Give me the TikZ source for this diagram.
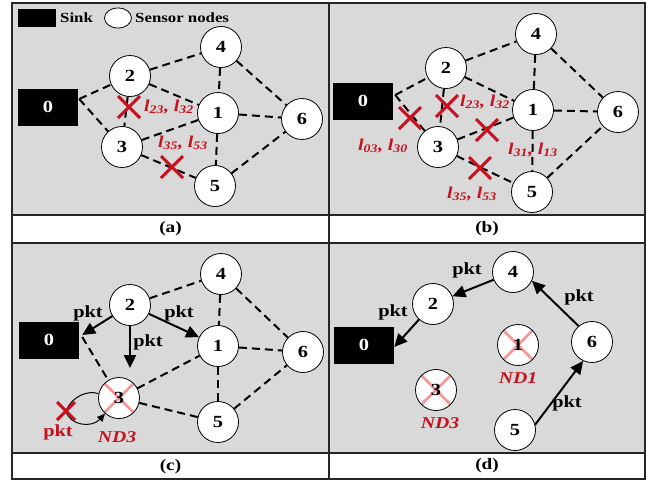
\documentclass[tikz,border=0pt]{standalone}
\usepackage{fontspec}
\setmainfont{Liberation Serif}[FakeStretch=1.2]
\usetikzlibrary{shapes.misc,shapes.geometric,arrows.meta,calc}
\definecolor{panelgray}{RGB}{217,217,217}
\definecolor{xred}{RGB}{200,16,30}
\definecolor{xpink}{RGB}{245,150,150}
\tikzset{
  snode/.style={circle,draw=black,line width=0.8pt,fill=white,minimum size=41pt,inner sep=0pt,font=\fontsize{17}{17}\selectfont\bfseries},
  sinknode/.style={rectangle,fill=black,minimum width=60pt,minimum height=37pt,inner sep=0pt,text=white,font=\fontsize{17}{17}\selectfont\bfseries},
  deadnode/.style={snode,path picture={\draw[xpink,line width=2.6pt]
     (path picture bounding box.north west) -- (path picture bounding box.south east)
     (path picture bounding box.north east) -- (path picture bounding box.south west);}},
  dedge/.style={line width=2pt,dash pattern=on 8pt off 5pt},
  arr/.style={line width=2pt,-{Triangle[length=13pt,width=12pt]}},
  redx/.style={cross out,draw=xred,line width=3pt,minimum size=19pt,inner sep=0pt},
  lbl/.style={text=xred,font=\fontsize{16.5}{16.5}\selectfont\bfseries\itshape,inner sep=0pt},
  pkttxt/.style={font=\fontsize{17}{17}\selectfont\bfseries,inner sep=0pt},
  captxt/.style={font=\fontsize{16}{16}\selectfont\bfseries,inner sep=0pt},
  frameline/.style={line width=1.5pt,draw=black!85}
}
\begin{document}
\begin{tikzpicture}[x=1pt,y=-1pt]
\fill[white] (0,0) rectangle (649,480);
\useasboundingbox (0,0) rectangle (649,480);
% panels
\fill[panelgray] (12,3) rectangle (645,215);
\fill[panelgray] (12,243) rectangle (645,453);
\draw[frameline] (12,3) rectangle (645,479);
\draw[frameline] (12,215) -- (645,215);
\draw[frameline] (12,243) -- (645,243);
\draw[frameline] (12,453) -- (645,453);
\draw[frameline] (329,3) -- (329,479);
\node[captxt] (capa) at (170.5,229) {(a)};
\node[captxt] (capb) at (487,229) {(b)};
\node[captxt] (capc) at (170.5,467) {(c)};
\node[captxt] (capd) at (487,466) {(d)};
% legend
\node[rectangle,fill=black,minimum width=38pt,minimum height=18pt,inner sep=0pt] (legsink) at (37,18) {};
\node[anchor=west,inner sep=0pt,font=\fontsize{14}{14}\selectfont\bfseries] (legsinktxt) at (60,18) {Sink};
\node[ellipse,draw=black,line width=0.8pt,fill=white,minimum width=27pt,minimum height=20pt,inner sep=0pt] (legnode) at (118,18) {};
\node[anchor=west,inner sep=0pt,font=\fontsize{14}{14}\selectfont\bfseries] (legnodetxt) at (135,18) {Sensor nodes};

% ---------- panel (a)
\node[sinknode] (a0) at (48,107) {0};
\node[snode] (a2) at (130,76) {2};
\node[snode] (a4) at (221,47) {4};
\node[snode] (a1) at (218,113) {1};
\node[snode] (a6) at (302,119) {6};
\node[snode] (a3) at (122,147) {3};
\node[snode] (a5) at (215,186) {5};
\coordinate (a0v) at ($(a0.east)+(1,-8)$);
\draw[dedge] (a0v) -- (a2);
\draw[dedge] (a0v) -- (a3);
\draw[dedge] (a2) -- (a4);
\draw[dedge] (a2) -- (a1);
\draw[dedge] (a2) -- (a3);
\draw[dedge] (a3) -- (a1);
\draw[dedge] (a3) -- (a5);
\draw[dedge] (a4) -- (a1);
\draw[dedge] (a4) -- (a6);
\draw[dedge] (a1) -- (a6);
\draw[dedge] (a1) -- (a5);
\draw[dedge] (a5) -- (a6);
\node[redx] (ax1) at (129,107) {};
\node[redx] (ax2) at (172,167) {};
\node[lbl,anchor=west] (al1) at (144,107) {l\textsubscript{23}, l\textsubscript{32}};
\node[lbl,anchor=west] (al2) at (158,143) {l\textsubscript{35}, l\textsubscript{53}};

% ---------- panel (b)
\node[sinknode] (b0) at (363,101) {0};
\node[snode] (b2) at (446,68) {2};
\node[snode] (b4) at (536,34) {4};
\node[snode] (b1) at (533,110) {1};
\node[snode] (b6) at (618,112) {6};
\node[snode] (b3) at (438,147) {3};
\node[snode] (b5) at (532,192) {5};
\coordinate (b0v) at ($(b0.east)+(2,-6)$);
\draw[dedge] (b0v) -- (b2);
\draw[dedge] (b0v) -- (b3);
\draw[dedge] (b2) -- (b4);
\draw[dedge] (b2) -- (b1);
\draw[dedge] (b2) -- (b3);
\draw[dedge] (b3) -- (b1);
\draw[dedge] (b3) -- (b5);
\draw[dedge] (b4) -- (b1);
\draw[dedge] (b4) -- (b6);
\draw[dedge] (b1) -- (b6);
\draw[dedge] (b1) -- (b5);
\draw[dedge] (b5) -- (b6);
\node[redx] (bx1) at (410,118) {};
\node[redx] (bx2) at (447,106) {};
\node[redx] (bx3) at (487,130) {};
\node[redx] (bx4) at (480,168) {};
\node[lbl] (bl1) at (383,146) {l\textsubscript{03}, l\textsubscript{30}};
\node[lbl,anchor=west] (bl2) at (460,102) {l\textsubscript{23}, l\textsubscript{32}};
\node[lbl,anchor=west] (bl3) at (508,150) {l\textsubscript{31}, l\textsubscript{13}};
\node[lbl,anchor=west] (bl4) at (447,194) {l\textsubscript{35}, l\textsubscript{53}};

% ---------- panel (c)
\node[sinknode] (c0) at (49,340) {0};
\node[snode] (c2) at (130,305) {2};
\node[snode] (c4) at (221,274) {4};
\node[snode] (c1) at (218,346) {1};
\node[snode] (c6) at (303,352) {6};
\node[deadnode] (c3) at (119,398) {3};
\node[snode] (c5) at (218,422) {5};
\coordinate (c0v) at ($(c0.east)+(3,-3)$);
\draw[dedge] (c0v) -- (c3);
\draw[dedge] (c2) -- (c4);
\draw[dedge] (c4) -- (c1);
\draw[dedge] (c4) -- (c6);
\draw[dedge] (c1) -- (c6);
\draw[dedge] (c3) -- (c1);
\draw[dedge] (c3) -- (c5);
\draw[dedge] (c1) -- (c5);
\draw[dedge] (c5) -- (c6);
\draw[arr] (c2) -- ([shift={(3,-5)}]c0.east);
\draw[arr] (c2) -- (c1);
\draw[arr] (c2.south) -- ([yshift=9pt]c2.south |- c3.north);
\node[pkttxt] (cp1) at (88,313) {pkt};
\node[pkttxt] (cp2) at (179,313) {pkt};
\node[pkttxt] (cp3) at (148,342) {pkt};
\coordinate (cx) at (66,411);
\draw[line width=1pt] (c3.168) .. controls (88,390) and (72,396) .. (cx);
\draw[line width=1pt,-{Triangle[length=8pt,width=7pt]}] (cx) .. controls (70,426) and (92,428) .. (c3.228);
\node[redx,minimum size=15pt] (cxx) at (cx) {};
\node[pkttxt,text=xred] (cp4) at (58,432) {pkt};
\node[lbl] (cnd) at (117,437) {ND3};

% ---------- panel (d)
\node[sinknode] (d0) at (364,345) {0};
\node[snode] (d2) at (433,304) {2};
\node[snode] (d4) at (513,272) {4};
\node[deadnode] (d1) at (518,345) {1};
\node[snode] (d6) at (592,342) {6};
\node[deadnode] (d3) at (436,390) {3};
\node[snode] (d5) at (515,430) {5};
\draw[arr] (d4) -- (d2);
\draw[arr] (d2) -- ([yshift=-2pt]d0.east);
\draw[arr] (d6.130) -- (d4.-25);
\draw[arr] (d5.15) -- (d6.-115);
\node[pkttxt] (dp1) at (467,270) {pkt};
\node[pkttxt] (dp2) at (393,312) {pkt};
\node[pkttxt] (dp3) at (579,297) {pkt};
\node[pkttxt] (dp4) at (567,403) {pkt};
\node[lbl] (dnd1) at (518,378) {ND1};
\node[lbl] (dnd3) at (440,423) {ND3};
\end{tikzpicture}
\end{document}
